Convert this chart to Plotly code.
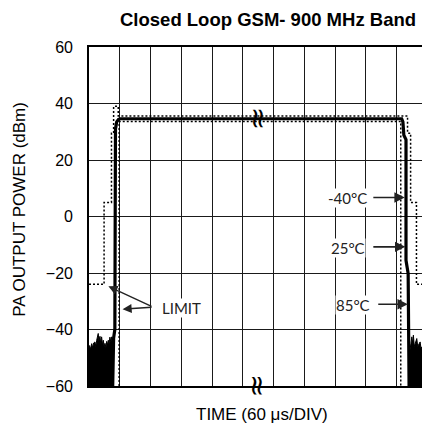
import plotly.graph_objects as go

# ---- data (x in time divisions of 60 us, y in dBm) ----
mask_hi_x = [0, 0.49, 0.49, 0.73, 0.73, 0.80, 0.80, 0.95, 0.95, 10.35, 10.35, 10.45, 10.45, 10.64, 10.64, 10.95]
mask_hi_y = [-24, -24, 5, 5, 29.5, 29.5, 39, 39, 35.6, 35.6, 29.5, 29.5, 5, 5, -24, -24]

mask_lo_x = [0.98, 0.98, 10.13, 10.13]
mask_lo_y = [-60, 33.6, 33.6, -60]

pw_x = [0.77, 0.80, 0.84, 0.85, 0.86, 0.90, 0.96, 1.02, 10.16, 10.20, 10.23, 10.30, 10.30, 10.37, 10.39, 10.40]
pw_y = [-60, -43, -40, 0, 31, 33.5, 34.4, 34.6, 34.6, 33.5, 28.8, 27.2, -15.5, -20.2, -35, -60]

noise_l_x = [0, 0, 0.04, 0.088, 0.12, 0.15, 0.195, 0.22, 0.25, 0.30, 0.32, 0.357, 0.38, 0.41, 0.44,
             0.465, 0.49, 0.52, 0.55, 0.575, 0.60, 0.627, 0.65, 0.68, 0.71, 0.737, 0.77, 0.77]
noise_l_y = [-60, -45.6, -47, -45.0, -46.5, -44.8, -44.4, -46, -43.8, -41.4, -44, -42.4, -45, -42.6, -45.5,
             -43.8, -46, -44.9, -46.5, -44.2, -45.5, -43.8, -45, -42.7, -44.5, -42.6, -44, -60]

noise_r_x = [10.40, 10.42, 10.46, 10.49, 10.52, 10.54, 10.57, 10.59, 10.62, 10.65, 10.68, 10.70,
             10.73, 10.76, 10.79, 10.81, 10.95, 10.95]
noise_r_y = [-60, -48, -45, -42.6, -45, -42.0, -46, -45, -44, -43.2, -46, -45.6,
             -44.5, -44.4, -47, -46.2, -46, -60]

temp_labels = ["-40°C", "25°C", "85°C"]
temp_text_x = [8.40, 8.42, 8.58]
temp_text_y = [6.5, -11.2, -31.4]
temp_tail_x = [9.19, 9.19, 9.35]
temp_tip_x = [10.26, 10.28, 10.36]
temp_arrow_y = [6.75, -10.75, -31.05]

limit_text = ("LIMIT", 3.02, -32.5)
limit_tail = (2.08, -32.1)
limit_tips_x = [0.63, 1.09]
limit_tips_y = [-24.7, -32.8]

break_x = [5.49, 5.49]
break_y = [34.6, -60]

y_ticks = [-60, -40, -20, 0, 20, 40, 60]

fig = go.Figure()

fig.add_trace(go.Scatter(x=noise_l_x, y=noise_l_y, mode="lines", fill="toself",
                         fillcolor="black", line=dict(color="black", width=1)))
fig.add_trace(go.Scatter(x=noise_r_x, y=noise_r_y, mode="lines", fill="toself",
                         fillcolor="black", line=dict(color="black", width=1)))
fig.add_trace(go.Scatter(x=pw_x, y=pw_y, mode="lines", line=dict(color="black", width=3.2)))
fig.add_trace(go.Scatter(x=mask_hi_x, y=mask_hi_y, mode="lines",
                         line=dict(color="black", width=1.5, dash="2px,2px")))
fig.add_trace(go.Scatter(x=mask_lo_x, y=mask_lo_y, mode="lines",
                         line=dict(color="black", width=1.5, dash="2px,2px")))

ann = []
lab_font = dict(family="Lato", size=15, color="#222")
for t, tx, ty in zip(temp_labels, temp_text_x, temp_text_y):
    ann.append(dict(x=tx, y=ty, xref="x", yref="y", text=t, showarrow=False,
                    font=lab_font, bgcolor="white", borderpad=0))
for tx0, tx1, ty in zip(temp_tail_x, temp_tip_x, temp_arrow_y):
    ann.append(dict(x=tx1, y=ty, ax=tx0, ay=ty, xref="x", yref="y", axref="x", ayref="y",
                    text="", showarrow=True, arrowhead=2, arrowsize=1.3, arrowwidth=1.6,
                    arrowcolor="#222"))
ann.append(dict(x=limit_text[1], y=limit_text[2], xref="x", yref="y", text=limit_text[0],
                showarrow=False, font=lab_font, bgcolor="white", borderpad=0))
for lx, ly in zip(limit_tips_x, limit_tips_y):
    ann.append(dict(x=lx, y=ly, ax=limit_tail[0], ay=limit_tail[1], xref="x", yref="y",
                    axref="x", ayref="y", text="", showarrow=True, arrowhead=2,
                    arrowsize=1.3, arrowwidth=1.4, arrowcolor="#222"))
for bx, by in zip(break_x, break_y):
    ann.append(dict(x=bx, y=by, xref="x", yref="y", text="≈", textangle=90, showarrow=False,
                    font=dict(family="DejaVu Sans", size=28, color="black")))

ann.append(dict(x=0.537, y=1.08, xref="paper", yref="paper", text="<b>Closed Loop GSM- 900 MHz Band</b>",
                showarrow=False, font=dict(family="Liberation Sans", size=18.5, color="black"),
                xanchor="center", yanchor="middle"))
ann.append(dict(x=-0.207, y=0.52, xref="paper", yref="paper", text="PA OUTPUT POWER (dBm)",
                textangle=-90, showarrow=False,
                font=dict(family="Liberation Sans", size=17, color="black"),
                xanchor="center", yanchor="middle"))
ann.append(dict(x=0.519, y=-0.085, xref="paper", yref="paper", text="TIME (60 μs/DIV)",
                showarrow=False, font=dict(family="Liberation Sans", size=17, color="black"),
                xanchor="center", yanchor="middle"))

fig.update_layout(
    width=422, height=424,
    margin=dict(l=89, r=0, t=47, b=38),
    paper_bgcolor="white", plot_bgcolor="white",
    showlegend=False,
    annotations=ann,
    xaxis=dict(range=[0, 10.82], dtick=1, tick0=0, showticklabels=False, showgrid=True,
               gridcolor="#1a1a1a", gridwidth=1.3, zeroline=False, showline=True,
               linecolor="black", linewidth=1.6, mirror=True, ticks=""),
    yaxis=dict(range=[-60, 60], tickvals=y_ticks, showgrid=True, gridcolor="#1a1a1a",
               gridwidth=1.3, zeroline=False, showline=True, linecolor="black", linewidth=1.6,
               ticks="", ticklabelstandoff=11,
               tickfont=dict(family="Liberation Sans", size=16, color="black")),
)

fig.write_html("out.html")
